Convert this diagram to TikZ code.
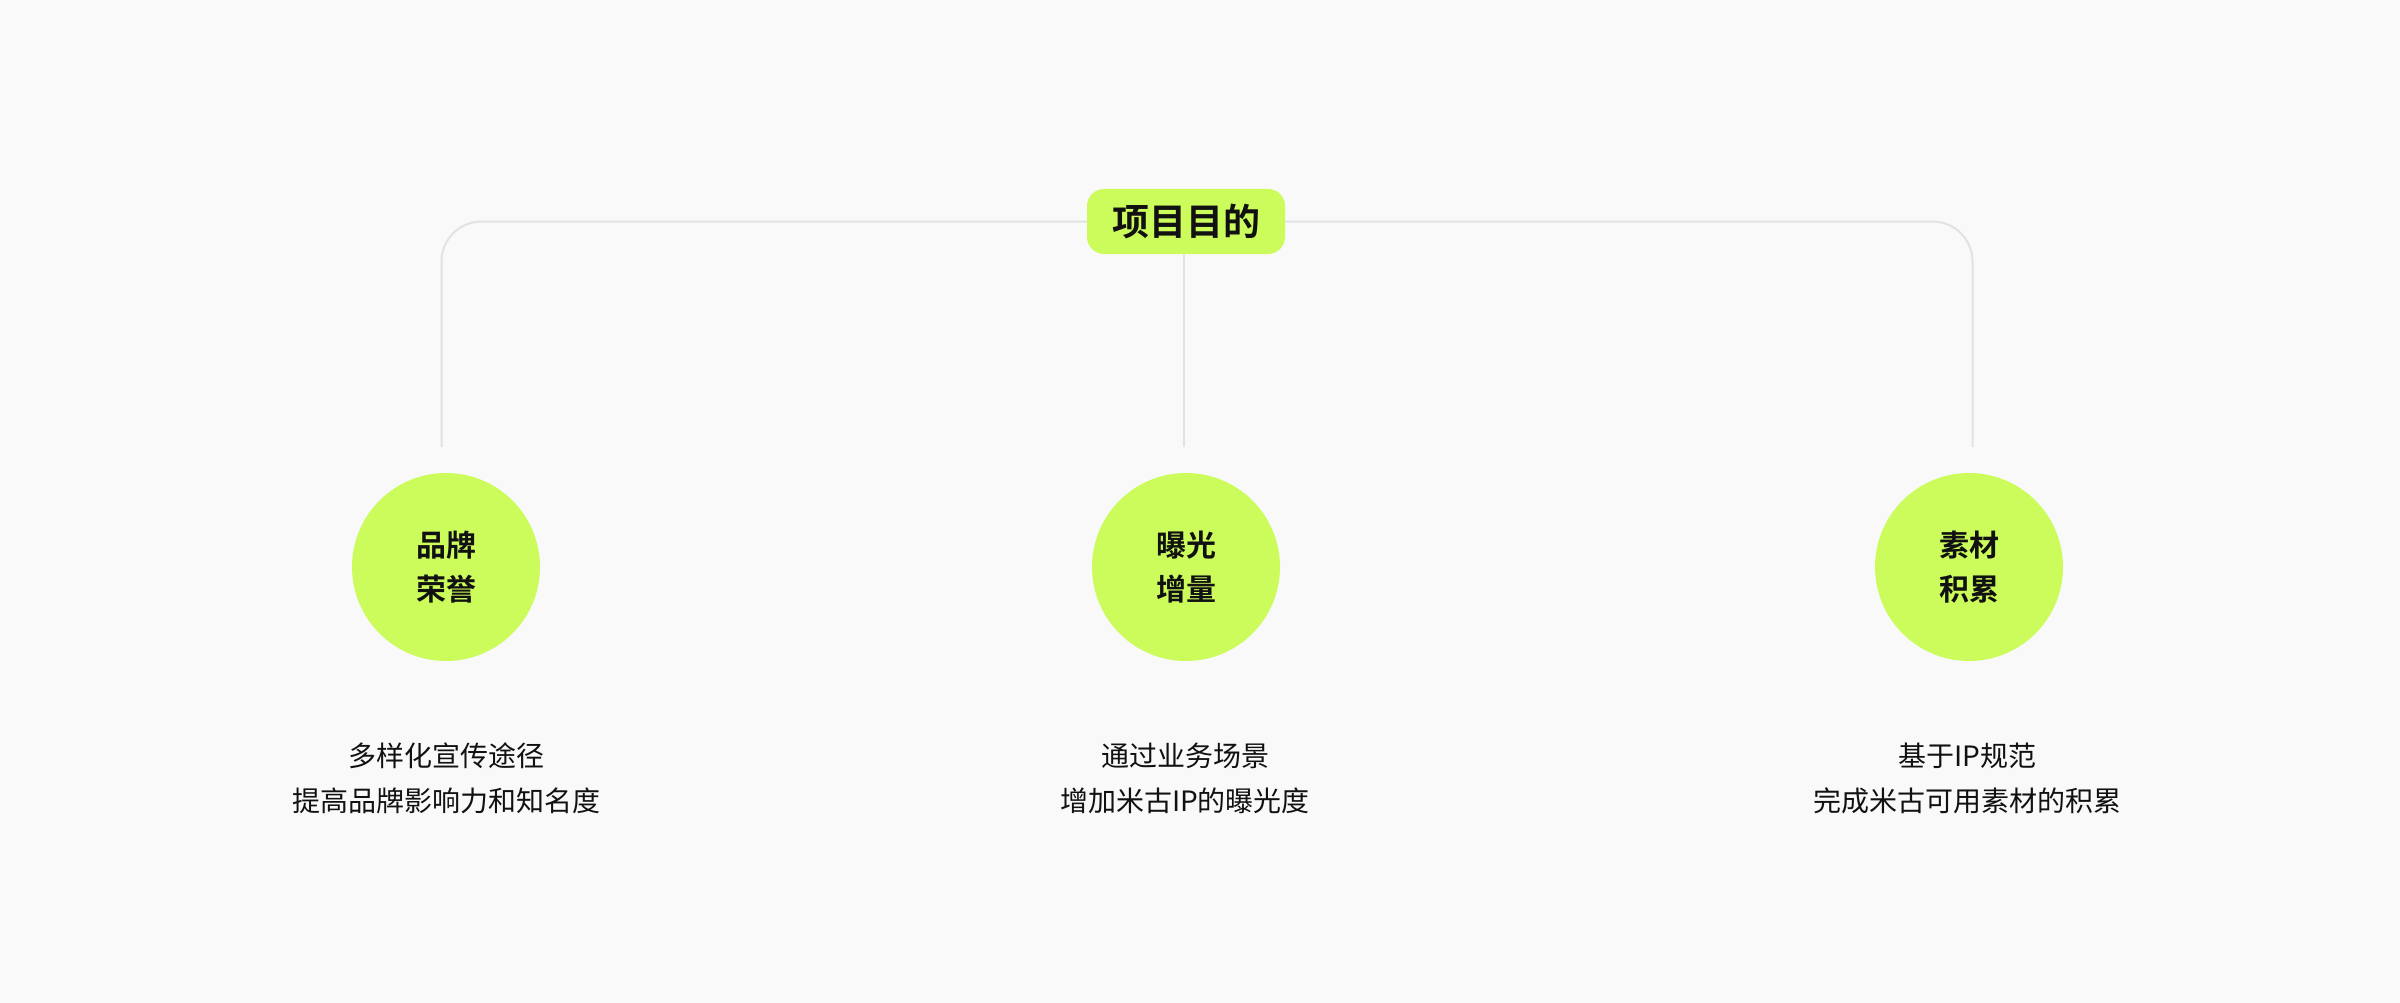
\documentclass[tikz,border=0pt]{standalone}
\usepackage{fontspec}
\newfontfamily\cjk{Noto Sans CJK SC}[BoldFont={Noto Sans CJK SC Bold}]
\definecolor{bgcol}{HTML}{F9F9F9}
\definecolor{lime}{HTML}{CBFC5C}
\definecolor{linecol}{HTML}{E2E2E2}
\definecolor{txtcol}{HTML}{111111}
\tikzset{
  titlebox/.style={fill=lime, rounded corners=17pt, minimum width=198pt, minimum height=65pt, inner sep=0pt, text=txtcol, font=\cjk\bfseries\fontsize{37}{44}\selectfont},
  goalcircle/.style={circle, fill=lime, minimum size=188pt, inner sep=0pt, align=center, text=txtcol, font=\cjk\bfseries\fontsize{30}{44}\selectfont},
  desc/.style={align=center, inner sep=0pt, text=txtcol, font=\cjk\fontsize{28}{45}\selectfont},
  conn/.style={draw=linecol, line width=2pt, rounded corners=40pt}
}
\begin{document}
\begin{tikzpicture}[x=1pt, y=-1pt]
\fill[bgcol] (0,0) rectangle (2400,1003);
\useasboundingbox (0,0) rectangle (2400,1003);
\coordinate (e1) at (441.5,447);
\coordinate (e2) at (1184,447);
\coordinate (e3) at (1972.5,447);
\node[titlebox] (t) at (1186,221.5) {项目目的};
\draw[conn] (t.west) -| (e1);
\draw[conn] (t.east) -| (e3);
\draw[conn] (t.south -| e2) -- (e2);
\node[goalcircle] (c1) at (446,567) {品牌\\荣誉};
\node[goalcircle] (c2) at (1186,567) {曝光\\增量};
\node[goalcircle] (c3) at (1969,567) {素材\\积累};
\node[desc] (d1) at (446,778) {多样化宣传途径\\提高品牌影响力和知名度};
\node[desc] (d2) at (1185,778) {通过业务场景\\增加米古IP的曝光度};
\node[desc] (d3) at (1967.5,778) {基于IP规范\\完成米古可用素材的积累};
\end{tikzpicture}
\end{document}
